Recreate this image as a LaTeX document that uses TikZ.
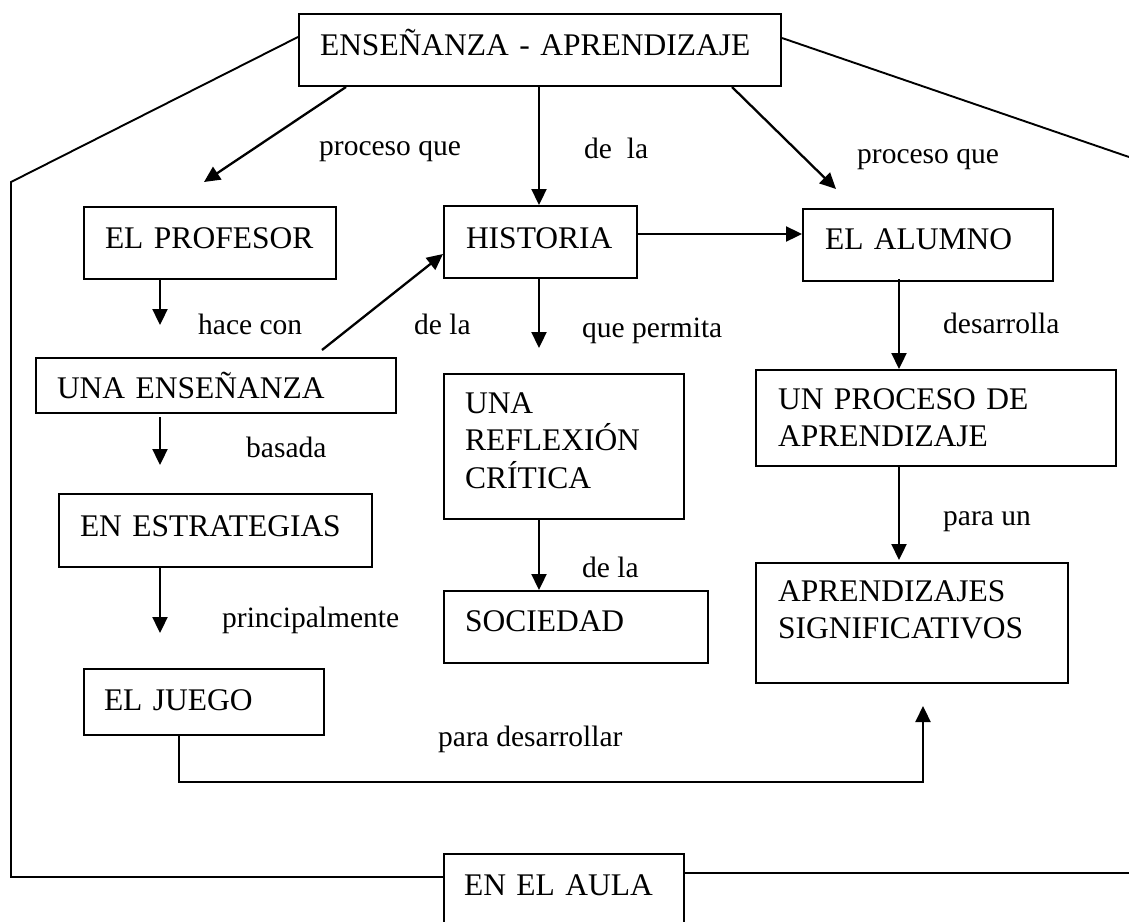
\documentclass[tikz,border=0pt]{standalone}
\usepackage{fontspec}
\setmainfont{Liberation Serif}
\usetikzlibrary{arrows.meta}
\tikzset{
  box/.style={draw, line width=2pt, anchor=north west, inner ysep=0pt, align=left,
    font=\fontsize{31.5}{37.5}\selectfont},
  lbl/.style={anchor=base west, inner sep=0pt, font=\fontsize{29.5}{35}\selectfont},
  arr/.style={line width=2.3pt, -{Triangle[length=16pt,width=15pt]}},
  frame/.style={line width=1.9pt}
}
\begin{document}
\begin{tikzpicture}[x=1pt,y=-1pt]
\useasboundingbox (0,0) rectangle (1129,921);
\clip (0,0) rectangle (1129,921);
% boxes
\node[box, inner xsep=21pt, text width=440pt, text height=41pt, text depth=31pt] (top) at (298,13) {ENSEÑANZA~-~APRENDIZAJE};
\node[box, inner xsep=21pt, text width=210pt, text height=41pt, text depth=31pt] (prof) at (83,206) {EL~PROFESOR};
\node[box, inner xsep=22pt, text width=149pt, text height=42pt, text depth=30pt] (hist) at (443,205) {HISTORIA};
\node[box, inner xsep=22pt, text width=206pt, text height=40pt, text depth=32pt] (alum) at (802,208) {EL~ALUMNO};
\node[box, inner xsep=21pt, text width=318pt, text height=40pt, text depth=15pt] (ens) at (35,357) {UNA~ENSEÑANZA};
\node[box, inner xsep=21pt, text width=271pt, text height=42pt, text depth=31pt] (estr) at (58,493) {EN~ESTRATEGIAS};
\node[box, inner xsep=21pt, text width=198pt, text height=39pt, text depth=106pt] (refl) at (443,373) {UNA\\REFLEXIÓN\\CRÍTICA};
\node[box, inner xsep=21pt, text width=222pt, text height=40pt, text depth=32pt] (soc) at (443,590) {SOCIEDAD};
\node[box, inner xsep=22pt, text width=316pt, text height=39pt, text depth=57pt] (proc) at (755,369) {UN~PROCESO~DE\\APRENDIZAJE};
\node[box, inner xsep=22pt, text width=268pt, text height=38pt, text depth=82pt] (aprs) at (755,562) {APRENDIZAJES\\SIGNIFICATIVOS};
\node[box, inner xsep=20pt, text width=200pt, text height=41pt, text depth=25pt] (juego) at (83,668) {EL~JUEGO};
\node[box, inner xsep=20pt, text width=200pt, text height=41pt, text depth=60pt] (aula) at (443,853) {EN~EL~AULA};
% labels
\node[lbl] (l1) at (319,155) {proceso que};
\node[lbl] (l2) at (584,158) {de~ la};
\node[lbl] (l3) at (857,163) {proceso que};
\node[lbl] (l4) at (198,334) {hace con};
\node[lbl] (l5) at (414,334) {de la};
\node[lbl] (l6) at (582,337) {que permita};
\node[lbl] (l7) at (943,333) {desarrolla};
\node[lbl] (l8) at (246,457) {basada};
\node[lbl] (l9) at (943,525) {para un};
\node[lbl] (l10) at (222,627) {principalmente};
\node[lbl] (l11) at (582,577) {de la};
\node[lbl] (l12) at (438,746) {para desarrollar};
% free ends
\coordinate (c1) at (204,182);
\coordinate (c2) at (836,189);
\coordinate (c3) at (160,325);
\coordinate (c4) at (322,350);
\coordinate (c5) at (539,348);
\coordinate (c6a) at (160,417);
\coordinate (c6) at (160,465);
\coordinate (c7) at (160,633);
\coordinate (c8) at (923,782);
\coordinate (c9) at (923,706);
\coordinate (f1) at (11,182);
\coordinate (f2) at (11,877);
\coordinate (f3) at (1129,157);
\coordinate (f4) at (1129,873);
% connectors
\draw[arr] ([xshift=48pt]top.south west) -- (c1);
\draw[arr] (top.south -| c5) -- (c5 |- hist.north);
\draw[arr] ([xshift=-50pt]top.south east) -- (c2);
\draw[arr] ([yshift=8pt]hist.east) -- ([yshift=8pt]hist.east -| alum.west);
\draw[arr] (c3 |- prof.south) -- (c3);
\draw[arr] (c4) -- ([yshift=-12pt]hist.west);
\draw[arr] (c5 |- hist.south) -- (c5);
\draw[arr] ([xshift=97pt,yshift=3pt]alum.south west) -- ([xshift=144pt]proc.north west);
\draw[arr] (c6a) -- (c6);
\draw[arr] (c7 |- estr.south) -- (c7);
\draw[arr] ([xshift=96pt]refl.south west) -- ([xshift=96pt]soc.north west);
\draw[arr] ([xshift=144pt]proc.south west) -- ([xshift=144pt,yshift=2pt]aprs.north west);
\draw[arr] ([xshift=96pt]juego.south west) |- (c8) -- (c9);
% outer frame
\draw[frame] ([yshift=-24pt]top.north west) -- (f1) -- (f2) -- (f2 -| aula.west);
\draw[frame] ([yshift=-25pt]top.north east) -- (f3);
\draw[frame] (aula.east |- f4) -- (f4);
\end{tikzpicture}
\end{document}
